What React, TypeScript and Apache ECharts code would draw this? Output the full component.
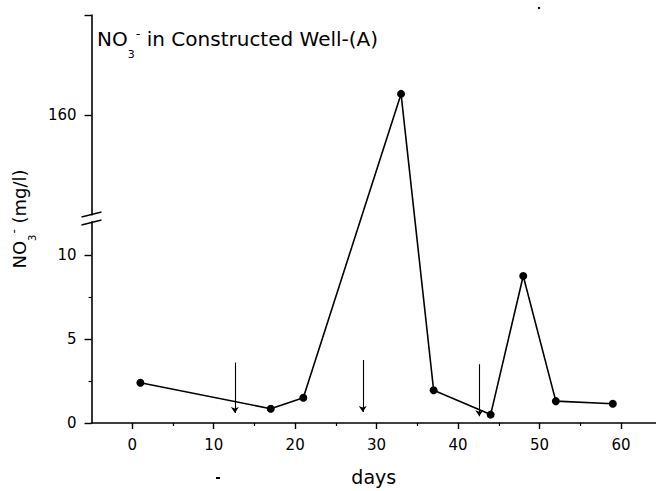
import React, { useEffect, useRef } from "react";
import * as echarts from "echarts";

// ---- data ----
const days = [1, 17, 21, 33, 37, 44, 48, 52, 59];
const no3 = [2.4, 0.85, 1.5, 163.4, 1.95, 0.5, 8.75, 1.3, 1.15];
const xTicks = [0, 10, 20, 30, 40, 50, 60];
const xMinorTicks = [5, 15, 25, 35, 45, 55];
const yTicks = [0, 5, 10, 160];
const yMinorTicks = [2.5, 7.5];
const arrowDays = [12.6, 28.3, 42.6];
const arrowTops = [3.6, 3.75, 3.5];
const arrowBottoms = [0.6, 0.65, 0.4];

// ---- broken y axis: lower segment linear, upper segment compressed ----
const LOWER_MAX = 12;
const UPPER_REF = 160;
const UPPER_REF_DISP = 18.31;
const UPPER_K = 0.3776;
const Y_TOP_DISP = 24.29;
const BREAK_DISP = 12.18;
const toDisp = (v: number) =>
  v <= LOWER_MAX ? v : UPPER_REF_DISP + (v - UPPER_REF) * UPPER_K;

const FONT = "DejaVu Sans";

export default function App() {
  const ref = useRef<HTMLDivElement>(null);
  useEffect(() => {
    if (!ref.current) return;
    const chart = echarts.init(ref.current, null, { renderer: "svg" });
    const dispTicks = yTicks.map(toDisp);
    const richTitle = {
      n: { fontFamily: FONT, fontSize: 20, fontWeight: "normal", color: "#000", lineHeight: 24 },
      sub: { fontFamily: FONT, fontSize: 11, fontWeight: "normal", color: "#000", verticalAlign: "top", lineHeight: 10, padding: [22, 0, 0, 0] },
      sup: { fontFamily: FONT, fontSize: 13, fontWeight: "normal", color: "#000", verticalAlign: "top", lineHeight: 4, padding: [0, 0, 0, 1] },
    };
    const richName = {
      n: { fontFamily: FONT, fontSize: 18, fontWeight: "normal", color: "#000", lineHeight: 22 },
      sub: { fontFamily: FONT, fontSize: 10, fontWeight: "normal", color: "#000", verticalAlign: "top", lineHeight: 10, padding: [19, 0, 0, 0] },
      sup: { fontFamily: FONT, fontSize: 12, fontWeight: "normal", color: "#000", verticalAlign: "top", lineHeight: 4, padding: [0, 0, 0, 1] },
    };
    chart.setOption({
      animation: false,
      backgroundColor: "#fff",
      title: {
        text: "{n|NO}{sub|3}{sup|-}{n| in Constructed Well-(A)}",
        left: 92,
        top: 22,
        textStyle: { fontWeight: "normal", rich: richTitle },
      },
      grid: { left: 91, right: 0, top: 15, bottom: 63, containLabel: false },
      xAxis: [
        {
          type: "value",
          min: -5,
          max: 64.3,
          position: "bottom",
          axisLine: { onZero: false, lineStyle: { color: "#000", width: 1.6 } },
          axisTick: { customValues: xTicks, length: 6, lineStyle: { color: "#000", width: 1.4 } },
          axisLabel: { customValues: xTicks, color: "#000", fontFamily: FONT, fontSize: 15, margin: 14 },
          splitLine: { show: false },
          name: "days",
          nameLocation: "middle",
          nameGap: 44,
          nameTextStyle: { fontFamily: FONT, fontSize: 19, color: "#000" },
        },
        {
          type: "value",
          min: -5,
          max: 64.3,
          position: "bottom",
          axisLine: { show: false, onZero: false },
          axisTick: { customValues: xMinorTicks, length: 3, lineStyle: { color: "#000", width: 1.2 } },
          axisLabel: { show: false },
          splitLine: { show: false },
        },
      ],
      yAxis: [
        {
          type: "value",
          min: 0,
          max: Y_TOP_DISP,
          position: "left",
          axisLine: { onZero: false, lineStyle: { color: "#000", width: 1.6 } },
          axisTick: {
            customValues: [...dispTicks, Y_TOP_DISP],
            length: 7,
            lineStyle: { color: "#000", width: 1.4 },
          },
          axisLabel: {
            customValues: dispTicks,
            color: "#000",
            fontFamily: FONT,
            fontSize: 15,
            margin: 15,
            formatter: (val: number) => {
              const i = dispTicks.findIndex((d) => Math.abs(d - val) < 1e-6);
              return i >= 0 ? String(yTicks[i]) : "";
            },
          },
          splitLine: { show: false },
          name: "{n|NO}{sub|3}{sup|-}{n| (mg/l)}",
          nameLocation: "middle",
          nameGap: 58,
          nameRotate: 90,
          nameTextStyle: { rich: richName },
        },
        {
          type: "value",
          min: 0,
          max: Y_TOP_DISP,
          position: "left",
          axisLine: { show: false, onZero: false },
          axisTick: { customValues: yMinorTicks, length: 3, lineStyle: { color: "#000", width: 1.2 } },
          axisLabel: { show: false },
          splitLine: { show: false },
        },
      ],
      series: [
        {
          type: "line",
          data: days.map((d, i) => [d, toDisp(no3[i])]),
          symbol: "circle",
          symbolSize: 8,
          itemStyle: { color: "#000" },
          lineStyle: { color: "#000", width: 1.6 },
        },
        {
          type: "lines",
          coordinateSystem: "cartesian2d",
          data: arrowDays.map((d, i) => ({
            coords: [
              [d, arrowTops[i]],
              [d, arrowBottoms[i]],
            ],
          })),
          symbol: ["none", "arrow"],
          symbolSize: 6,
          lineStyle: { color: "#000", width: 1.1, opacity: 1 },
        },
      ],
    });
    const p = chart.convertToPixel({ gridIndex: 0 }, [-5, BREAK_DISP]) as number[];
    const ax = p[0];
    const cy = p[1];
    chart.setOption({
      graphic: [
        { type: "rect", shape: { x: ax - 2, y: cy - 3, width: 4, height: 6 }, style: { fill: "#fff" }, z: 100 },
        { type: "line", shape: { x1: ax - 10, y1: cy - 1.5, x2: ax + 10, y2: cy - 6.5 }, style: { stroke: "#000", lineWidth: 1.5 }, z: 101 },
        { type: "line", shape: { x1: ax - 10, y1: cy + 6.5, x2: ax + 10, y2: cy + 1.5 }, style: { stroke: "#000", lineWidth: 1.5 }, z: 101 },
        // small scan specks present in the reference
        { type: "circle", shape: { cx: 539, cy: 8, r: 1.2 }, style: { fill: "#000" } },
        { type: "rect", shape: { x: 216, y: 477, width: 4, height: 2 }, style: { fill: "#000" } },
      ],
    });
    return () => chart.dispose();
  }, []);
  return <div ref={ref} style={{ width: 656, height: 491, position: "absolute", left: 0, top: 0 }} />;
}
